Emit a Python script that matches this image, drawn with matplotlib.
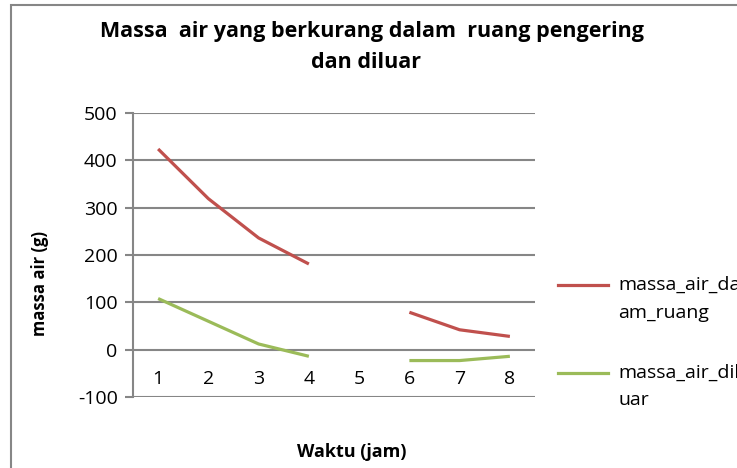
import numpy as np
import matplotlib.pyplot as plt
from matplotlib.lines import Line2D
from matplotlib.patches import Rectangle

# data (hour 5 has no value)
jam = [1, 2, 3, 4, 5, 6, 7, 8]
massa_air_dalam_ruang = [424, 319, 236, 181, np.nan, 79, 42, 28]
massa_air_diluar = [108, 60, 12, -14, np.nan, -23, -23, -14]
y_ticks = [-100, 0, 100, 200, 300, 400, 500]

merah = '#C0504D'
hijau = '#9BBB59'
abu = '#868686'

plt.rcParams['font.family'] = ['Open Sans', 'DejaVu Sans']

fig = plt.figure(figsize=(7.37, 4.68), dpi=100)
W, H = 737, 468

# outer chart border (right and bottom fall outside the picture)
fig.patches.append(Rectangle((11 / W, -0.1), 1.2, (H - 5) / H + 0.1, transform=fig.transFigure,
                             fill=False, edgecolor=abu, linewidth=1.5))

ax = fig.add_axes([133 / W, 71 / H, 402 / W, 284 / H])
ax.plot(jam, massa_air_dalam_ruang, color=merah, linewidth=2.3, solid_capstyle='butt')
ax.plot(jam, massa_air_diluar, color=hijau, linewidth=2.3, solid_capstyle='butt')

ax.set_xlim(0.5, 8.5)
ax.set_ylim(-100, 500)
ax.set_yticks(y_ticks)
ax.set_yticklabels([str(v) for v in y_ticks], fontsize=14)
ax.tick_params(axis='y', length=6, width=1.5, color=abu, pad=5)
ax.set_xticks([])
for s in ['top', 'right', 'bottom']:
    ax.spines[s].set_visible(False)
ax.spines['left'].set_color(abu)
ax.spines['left'].set_linewidth(1.5)
ax.grid(axis='y', color=abu, linewidth=1.5)
ax.set_axisbelow(True)

# category labels sit just below the zero line
for x in jam:
    ax.annotate(str(x), (x, 0), xytext=(0, -21), textcoords='offset points',
                ha='center', va='center', fontsize=14)

fig.text(372 / W, 1 - 32 / H, 'Massa  air yang berkurang dalam  ruang pengering',
         ha='center', va='center', fontsize=15.5, fontweight='bold')
fig.text(366 / W, 1 - 63 / H, 'dan diluar', ha='center', va='center', fontsize=15.5, fontweight='bold')
fig.text(40 / W, 1 - 284 / H, 'massa air (g)', rotation=90, ha='center', va='center',
         fontsize=12, fontweight='bold')
fig.text(352 / W, 1 - 452 / H, 'Waktu (jam)', ha='center', va='center', fontsize=13, fontweight='bold')

# legend drawn by hand so the text runs off the right edge like the reference
for warna, y1, y2, t1, t2 in [(merah, 285, 313, 'massa_air_dal', 'am_ruang'),
                              (hijau, 373, 400, 'massa_air_dil', 'uar')]:
    fig.lines.append(Line2D([558 / W, 608 / W], [1 - y1 / H, 1 - y1 / H], transform=fig.transFigure,
                            color=warna, linewidth=2.3))
    fig.text(618 / W, 1 - y1 / H, t1, ha='left', va='center', fontsize=14)
    fig.text(618 / W, 1 - y2 / H, t2, ha='left', va='center', fontsize=14)

fig.savefig('out.png', dpi=100)
